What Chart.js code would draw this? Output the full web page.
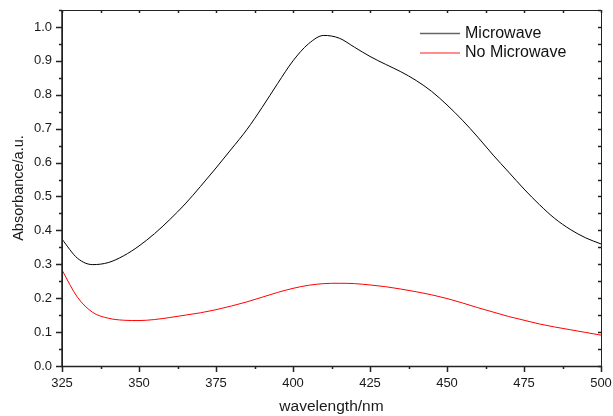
<!DOCTYPE html>
<html>
<head>
<meta charset="utf-8">
<script src="https://cdn.jsdelivr.net/npm/chart.js@4/dist/chart.umd.min.js"></script>
<style>
  html, body { margin: 0; padding: 0; background: #fff; }
  canvas { display: block; }
</style>
</head>
<body>
<canvas id="myChart" width="613" height="416"></canvas>
<script>
'use strict';

const wavelengths = [325, 330, 335, 340, 345, 350, 355, 360, 365, 370, 375, 380, 385, 390, 395, 400, 405, 410, 415, 420,
    425, 430, 435, 440, 445, 450, 455, 460, 465, 470, 475, 480, 485, 490, 495, 500];
const microwave = [0.374, 0.318, 0.299, 0.305, 0.325, 0.354, 0.390, 0.432, 0.478, 0.530, 0.584, 0.640, 0.697, 0.763, 0.833, 0.900, 0.950, 0.975, 0.967, 0.940,
    0.913, 0.890, 0.868, 0.842, 0.810, 0.770, 0.725, 0.675, 0.622, 0.572, 0.522, 0.476, 0.435, 0.403, 0.378, 0.360];
const noMicrowave = [0.283, 0.203, 0.158, 0.141, 0.135, 0.134, 0.137, 0.143, 0.150, 0.157, 0.166, 0.177, 0.189, 0.203, 0.217, 0.229, 0.238, 0.243, 0.244, 0.243,
    0.239, 0.234, 0.227, 0.219, 0.210, 0.199, 0.186, 0.172, 0.159, 0.146, 0.135, 0.124, 0.115, 0.107, 0.099, 0.091];

const FONT = '"Liberation Sans", Arial, sans-serif';

function toPoints(ys) {
    return wavelengths.map((x, i) => ({ x: x, y: ys[i] }));
}

// frame + Origin-style major/minor ticks
const framePlugin = {
    id: 'frame',
    afterDraw(chart) {
        const ctx = chart.ctx;
        const a = chart.chartArea;
        const xs = chart.scales.x;
        const ys = chart.scales.y;
        ctx.save();
        ctx.strokeStyle = '#222';
        ctx.lineWidth = 1;
        ctx.strokeRect(a.left + 0.5, a.top + 0.5, a.right - a.left, a.bottom - a.top);
        ctx.lineWidth = 1.5;
        ctx.beginPath();
        ctx.moveTo(a.left, a.top); ctx.lineTo(a.left, a.bottom + 0.5);
        ctx.lineTo(a.right + 1, a.bottom + 0.5);
        ctx.stroke();

        ctx.lineWidth = 1.5;
        ctx.beginPath();
        for (let v = 0; v <= 1.0501; v += 0.05) {
            const py = Math.round(ys.getPixelForValue(v)) + 0.5;
            const major = Math.round(v * 100) % 10 === 0;
            ctx.moveTo(a.left, py); ctx.lineTo(a.left - (major ? 6 : 3), py);
            ctx.moveTo(a.right, py); ctx.lineTo(a.right - 3, py);
        }
        for (let v = 325; v <= 500; v += 12.5) {
            const px = Math.round(xs.getPixelForValue(v)) + 0.5;
            const major = (v - 325) % 25 === 0;
            ctx.moveTo(px, a.bottom); ctx.lineTo(px, a.bottom + (major ? 6 : 3));
            ctx.moveTo(px, a.top); ctx.lineTo(px, a.top + 3);
        }
        ctx.stroke();

        // legend inside the plot
        ctx.font = '16px ' + FONT;
        ctx.textBaseline = 'middle';
        ctx.fillStyle = '#111';
        chart.data.datasets.forEach((ds, i) => {
            const y = 33.5 + i * 19.5;
            ctx.strokeStyle = ds.borderColor;
            ctx.lineWidth = 1.5;
            ctx.globalAlpha = 0.6;
            ctx.beginPath();
            ctx.moveTo(420, y); ctx.lineTo(460, y);
            ctx.stroke();
            ctx.globalAlpha = 1;
            ctx.fillText(ds.label, 465, y);
        });
        ctx.restore();
    }
};

const ctx = document.getElementById('myChart');
const myChart = new Chart(ctx, {
    type: 'line',
    data: {
        datasets: [{
            label: 'Microwave',
            data: toPoints(microwave),
            borderColor: '#000000',
            borderWidth: 1,
            pointRadius: 0,
            cubicInterpolationMode: 'monotone'
        },
        {
            label: 'No Microwave',
            data: toPoints(noMicrowave),
            borderColor: '#ff0000',
            borderWidth: 1,
            pointRadius: 0,
            cubicInterpolationMode: 'monotone'
        }]
    },
    options: {
        responsive: false,
        animation: false,
        layout: { padding: { top: 10, right: 12, left: 0, bottom: 0 } },
        plugins: {
            legend: { display: false },
            tooltip: { enabled: false }
        },
        scales: {
            x: {
                type: 'linear',
                min: 325,
                max: 500,
                afterFit(scale) {
                    scale.height = 50;
                    scale.paddingLeft = 0;
                    scale.paddingRight = 0;
                },
                grid: { display: false, drawTicks: true, tickLength: 6 },
                border: { display: false },
                ticks: {
                    stepSize: 25,
                    padding: 4,
                    color: '#1a1a1a',
                    font: { family: FONT, size: 13 },
                    maxRotation: 0
                },
                title: {
                    display: true,
                    text: 'wavelength/nm',
                    color: '#1a1a1a',
                    font: { family: FONT, size: 15.5 },
                    padding: { top: 0, bottom: 0 }
                }
            },
            y: {
                min: 0,
                max: 1.05,
                afterFit(scale) {
                    scale.width = 62;
                    scale.paddingTop = 0;
                    scale.paddingBottom = 0;
                },
                grid: { display: false, drawTicks: true, tickLength: 6 },
                border: { display: false },
                ticks: {
                    stepSize: 0.1,
                    includeBounds: false,
                    padding: 4,
                    color: '#1a1a1a',
                    font: { family: FONT, size: 13 },
                    callback: (v) => v.toFixed(1)
                },
                title: {
                    display: true,
                    text: 'Absorbance/a.u.',
                    color: '#1a1a1a',
                    font: { family: FONT, size: 14.5 },
                    padding: { top: 10, bottom: 0 }
                }
            }
        }
    },
    plugins: [framePlugin]
});
</script>
</body>
</html>
